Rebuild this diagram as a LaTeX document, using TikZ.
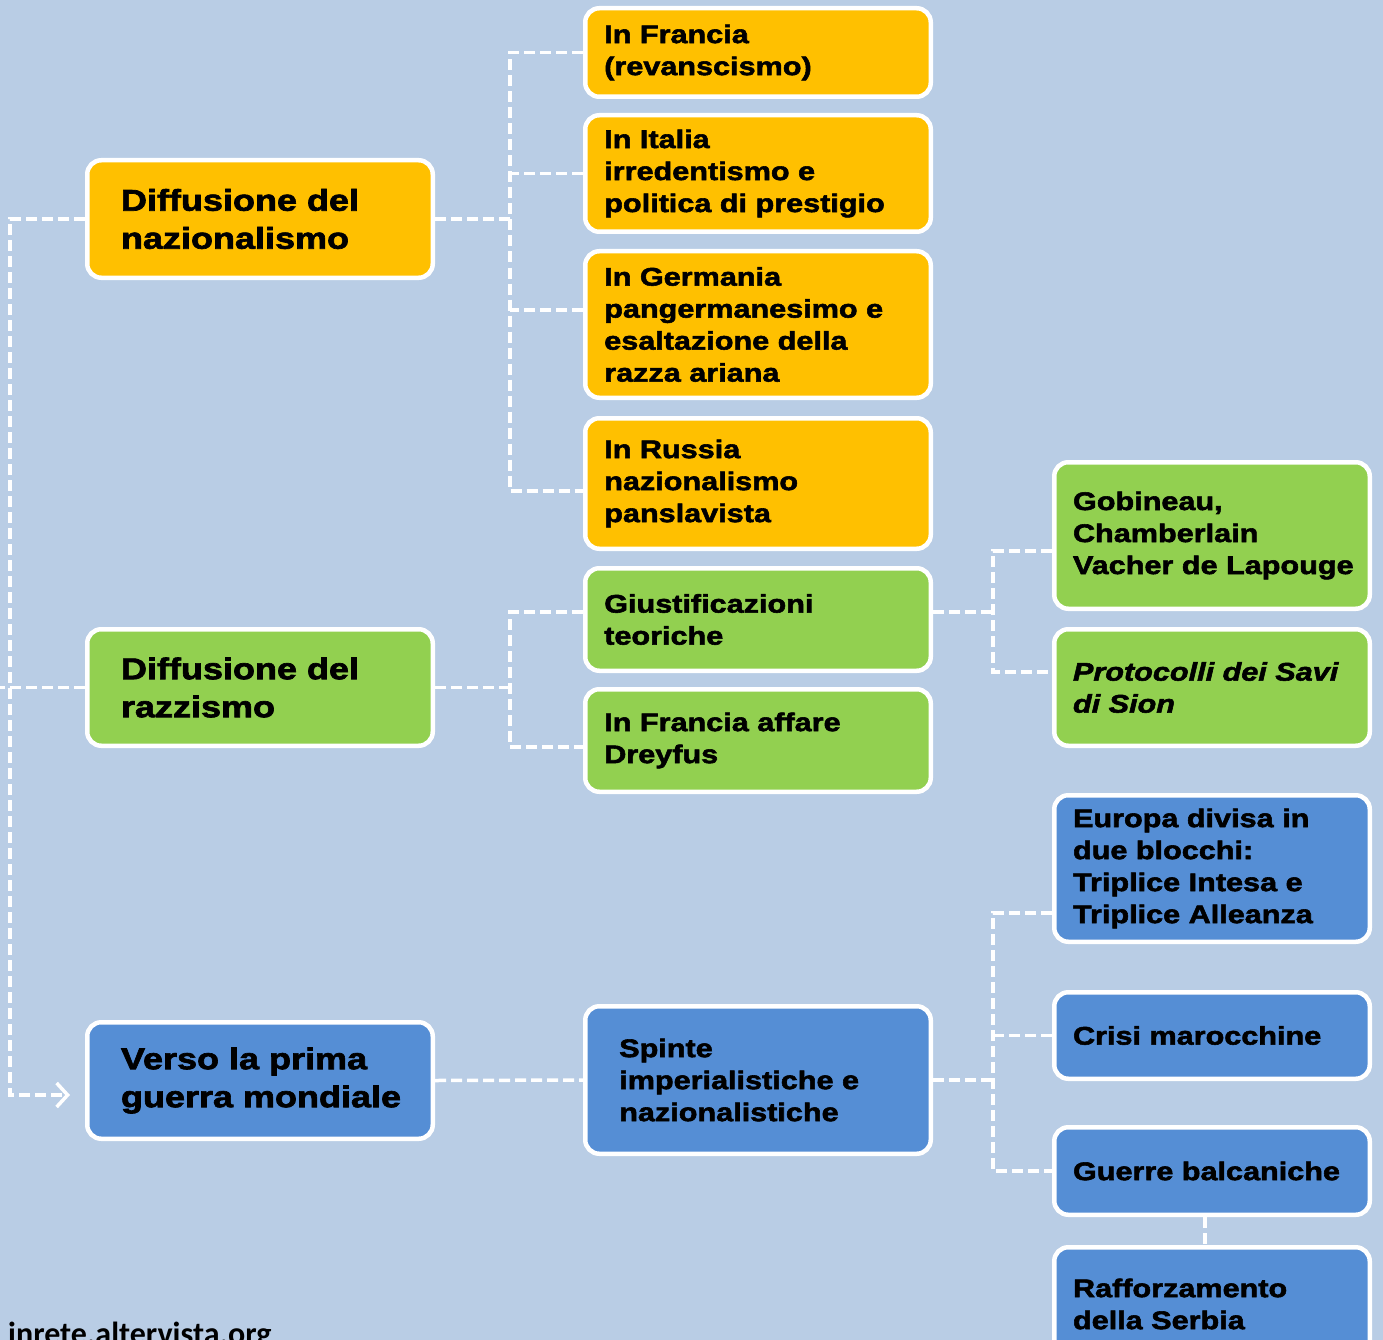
\documentclass[tikz,border=0pt]{standalone}
\usepackage{fontspec}
\usepackage{tikz}
\usetikzlibrary{arrows.meta}
\newfontfamily\boxfont[FakeStretch=1.2,FakeBold=2.2]{Liberation Sans Bold}
\newfontfamily\boxfontit[FakeStretch=1.2,FakeBold=2.2]{Liberation Sans Bold Italic}
\newfontfamily\markfont{Carlito Bold}
\newcommand{\bigfont}{\boxfont\fontsize{30}{38}\selectfont}
\newcommand{\midfont}{\boxfont\fontsize{25.5}{32}\selectfont}
\definecolor{sky}{HTML}{B9CDE5}
\definecolor{natfill}{HTML}{FFC000}
\definecolor{racfill}{HTML}{92D050}
\definecolor{warfill}{HTML}{558ED5}

\begin{document}
\begin{tikzpicture}[x=1pt,y=-1pt]
\tikzstyle{box}=[rounded corners=14pt,draw=white,line width=4.5pt,align=left,inner ysep=0pt,text=black];
\tikzstyle{top}=[box,text width=278pt,inner xsep=33.75pt,font=\bigfont];
\tikzstyle{mid}=[box,text width=307.5pt,inner xsep=19pt,font=\midfont];
\tikzstyle{sub}=[box,text width=278pt,inner xsep=18.75pt,font=\midfont];
\tikzstyle{natbox}=[fill=natfill];
\tikzstyle{racbox}=[fill=racfill];
\tikzstyle{warbox}=[fill=warfill];
\tikzstyle{link}=[white,line width=3.5pt,dash pattern=on 11pt off 5pt];
\useasboundingbox (0,0) rectangle (1383,1340);
\clip (0,0) rectangle (1383,1340);
\fill [sky] (0,0) rectangle (1383,1340);

% left column
\node [top,natbox,minimum height=117.5pt] (naz) at (260,219) {Diffusione del\\nazionalismo};
\node [top,racbox,minimum height=116.5pt] (raz) at (260,687.5) {Diffusione del\\razzismo};
\node [top,warbox,minimum height=116.5pt] (ver) at (260,1080.5) {Verso la prima\\\mbox{guerra mondiale}};

% middle column
\node [mid,natbox,minimum height=88.5pt] (fra) at (758,52.5) {In Francia\\(revanscismo)};
\node [mid,natbox,minimum height=116.5pt] (ita) at (758,173.5) {In Italia\\irredentismo e\\politica di prestigio};
\node [mid,natbox,minimum height=146.5pt] (ger) at (758,324.5) {In Germania\\pangermanesimo e\\esaltazione della\\razza ariana};
\node [mid,natbox,minimum height=130.5pt] (rus) at (758,483.5) {In Russia\\nazionalismo\\panslavista};
\node [mid,racbox,minimum height=102.5pt] (giu) at (758,619.5) {Giustificazioni\\teoriche};
\node [mid,racbox,minimum height=102.5pt] (dre) at (758,740.5) {In Francia affare\\Dreyfus};
\node [mid,warbox,minimum height=147.5pt,inner xsep=34pt,text width=277.5pt] (spi) at (758,1080) {Spinte\\imperialistiche e\\nazionalistiche};

% right column
\node [sub,racbox,minimum height=146.5pt] (gob) at (1212,535.5) {Gobineau,\\Chamberlain\\\mbox{Vacher de Lapouge}};
\node [sub,racbox,minimum height=116.5pt] (pro) at (1212,687.5) {\boxfontit Protocolli dei Savi\\di Sion};
\node [sub,warbox,minimum height=146.5pt] (eur) at (1212,868.5) {Europa divisa in\\due blocchi:\\Triplice Intesa e\\Triplice Alleanza};
\node [sub,warbox,minimum height=86.5pt] (cri) at (1212,1035.5) {Crisi marocchine};
\node [sub,warbox,minimum height=87.5pt] (bal) at (1212,1171) {Guerre balcaniche};
\node [sub,warbox,minimum height=113.5pt] (raf) at (1212,1304) {Rafforzamento\\della Serbia};

\node [anchor=base west,inner sep=0pt,font=\markfont\fontsize{32}{36}\selectfont] (site) at (8,1344) {inrete.altervista.org};

% connectors
\coordinate (trunk) at (10,0);
\coordinate (edge) at (0,0);
\coordinate (tip) at (70,1095);
\coordinate (nj) at (510,0);
\coordinate (gj) at (993,0);
\coordinate (gerin) at ([yshift=14.5pt]ger.west);
\coordinate (rusin) at ([yshift=-7.5pt]rus.west);
\coordinate (giuin) at ([yshift=7.5pt]giu.west);
\coordinate (giuout) at ([yshift=7.5pt]giu.east);
\coordinate (drein) at ([yshift=-6.5pt]dre.west);
\coordinate (gobin) at ([yshift=-15.5pt]gob.west);
\coordinate (proin) at ([yshift=15.5pt]pro.west);
\coordinate (eurin) at ([yshift=-44.5pt]eur.west);

\draw [link,-{Straight Barb[length=11pt,width=24pt]}] (naz.west) -| (trunk |- tip) -- (tip);
\draw [link] (raz.west) -- (raz.west -| edge);

\draw [link] (naz.east) -- (naz.east -| nj);
\draw [link] (fra.west) -- (fra.west -| nj) -- (rusin -| nj) -- (rusin);
\draw [link] (ita.west) -- (ita.west -| nj);
\draw [link] (gerin) -- (gerin -| nj);

\draw [link] (raz.east) -- (raz.east -| nj);
\draw [link] (giuin) -- (giuin -| nj) -- (drein -| nj) -- (drein);

\draw [link] (ver.east) -- (spi.west);

\draw [link] (giuout) -- (giuout -| gj);
\draw [link] (gobin) -- (gobin -| gj) -- (proin -| gj) -- (proin);

\draw [link] (spi.east) -- (spi.east -| gj);
\draw [link] (eurin) -- (eurin -| gj) -- (bal.west -| gj) -- (bal.west);
\draw [link] (cri.west) -- (cri.west -| gj);

\draw [link] ([xshift=-7pt]bal.south) -- ([xshift=-7pt]raf.north);
\end{tikzpicture}
\end{document}
